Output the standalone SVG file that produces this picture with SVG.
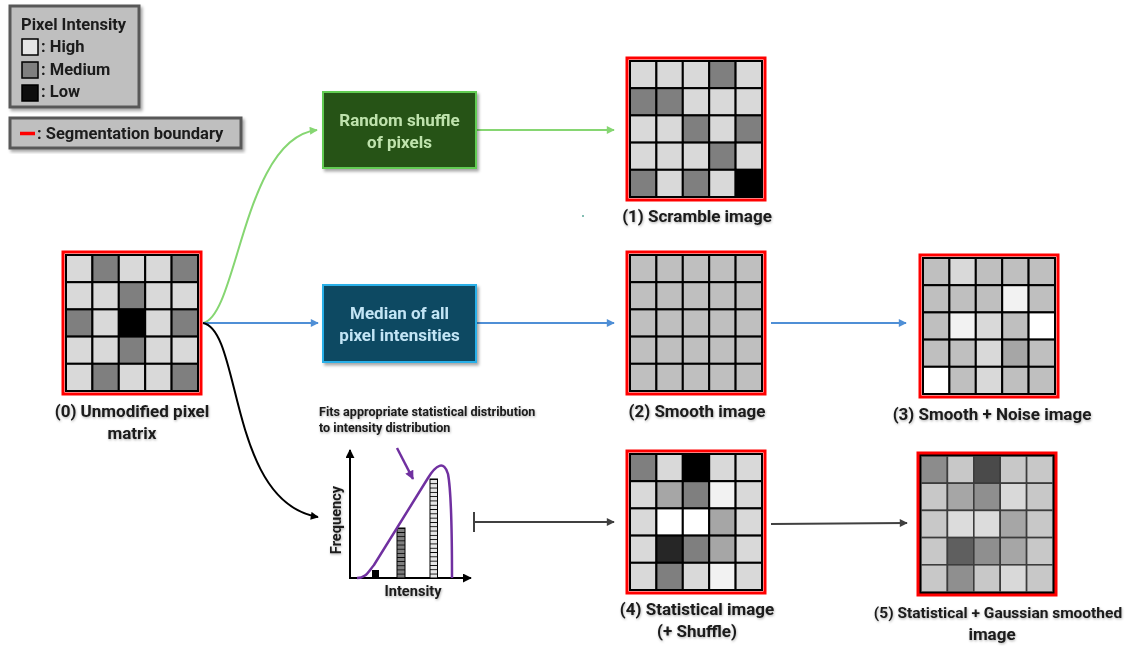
<svg xmlns="http://www.w3.org/2000/svg" width="1131" height="648" viewBox="0 0 1131 648">
  <style>
    text { font-family: Roboto, "Liberation Sans", Arial, sans-serif; font-weight: 700; fill: #1a1a1a; }
    .lbl { font-size: 17px; text-anchor: middle; }
    .leg { font-size: 16.5px; }
    .box-t { font-size: 17px; text-anchor: middle; }
    .small { font-size: 12.6px; }
    .axis-t { font-size: 14.6px; text-anchor: middle; }
    .c { width: 26.4px; height: 27.2px; stroke: #000; stroke-width: 2; }
    .soft .c { stroke: #3c3c3c; stroke-width: 1.6; }
    .frame { fill: none; stroke: #ff0000; stroke-width: 3; }
    .L { fill: #d9d9d9; } .M { fill: #7f7f7f; } .K { fill: #000; } .S { fill: #bfbfbf; }
    .V { fill: #f2f2f2; } .W { fill: #ffffff; } .D { fill: #a6a6a6; } .K2 { fill: #262626; }
    .g8c { fill: #8c8c8c; } .gc8 { fill: #c8c8c8; } .g4a { fill: #4a4a4a; } .g8f { fill: #8f8f8f; }
    .gdc { fill: #dcdcdc; } .g5f { fill: #5f5f5f; } .gd9 { fill: #d9d9d9; } .ga6 { fill: #a6a6a6; }
    .legbox { fill: #bfbfbf; stroke: #595959; stroke-width: 3; }
  </style>
  <defs>
    <filter id="shadow" x="-10%" y="-10%" width="125%" height="130%">
      <feDropShadow dx="2" dy="2.5" stdDeviation="1.6" flood-color="#000" flood-opacity="0.35"/>
    </filter>
    <filter id="tshadow" x="-5%" y="-20%" width="110%" height="150%">
      <feDropShadow dx="0.6" dy="1.2" stdDeviation="0.8" flood-color="#000" flood-opacity="0.3"/>
    </filter>
    <marker id="ah-green" viewBox="0 0 10 10" refX="9" refY="5" markerWidth="9" markerHeight="8" markerUnits="userSpaceOnUse" orient="auto">
      <path d="M0,0 L10,5 L0,10 z" fill="#86d672"/>
    </marker>
    <marker id="ah-blue" viewBox="0 0 10 10" refX="9" refY="5" markerWidth="9" markerHeight="8" markerUnits="userSpaceOnUse" orient="auto">
      <path d="M0,0 L10,5 L0,10 z" fill="#4f8fd6"/>
    </marker>
    <marker id="ah-black" viewBox="0 0 10 10" refX="9" refY="5" markerWidth="9" markerHeight="8" markerUnits="userSpaceOnUse" orient="auto">
      <path d="M0,0 L10,5 L0,10 z" fill="#000"/>
    </marker>
    <marker id="ah-gray" viewBox="0 0 10 10" refX="9" refY="5" markerWidth="9" markerHeight="8" markerUnits="userSpaceOnUse" orient="auto">
      <path d="M0,0 L10,5 L0,10 z" fill="#404040"/>
    </marker>
    <marker id="ah-purple" viewBox="0 0 10 10" refX="9" refY="5" markerWidth="10" markerHeight="9" markerUnits="userSpaceOnUse" orient="auto">
      <path d="M0,0 L10,5 L0,10 z" fill="#7030a0"/>
    </marker>
    <marker id="ah-axis" viewBox="0 0 10 10" refX="9" refY="5" markerWidth="9" markerHeight="9" markerUnits="userSpaceOnUse" orient="auto">
      <path d="M0,0 L10,5 L0,10 z" fill="#000"/>
    </marker>
    <pattern id="seg-mid" patternUnits="userSpaceOnUse" x="0" y="528" width="10" height="4.15">
      <rect width="10" height="4.15" fill="#7f7f7f"/>
      <line x1="0" y1="0.4" x2="10" y2="0.4" stroke="#000" stroke-width="0.9"/>
    </pattern>
    <pattern id="seg-hi" patternUnits="userSpaceOnUse" x="0" y="479" width="10" height="4.3">
      <rect width="10" height="4.3" fill="#e6e6e6"/>
      <line x1="0" y1="0.4" x2="10" y2="0.4" stroke="#000" stroke-width="0.9"/>
    </pattern>
  </defs>

  <!-- Legend -->
  <g id="legend-intensity" filter="url(#shadow)">
    <rect class="legbox" x="10" y="6" width="129" height="101"/>
    <text class="leg" x="21" y="30">Pixel Intensity</text>
    <rect x="22" y="39" width="16" height="16" fill="#e6e6e6" stroke="#000" stroke-width="1.5"/>
    <text class="leg" x="41" y="52">: High</text>
    <rect x="22" y="62" width="16" height="16" fill="#7f7f7f" stroke="#000" stroke-width="1.5"/>
    <text class="leg" x="41" y="75">: Medium</text>
    <rect x="22" y="85" width="16" height="16" fill="#0d0d0d" stroke="#000" stroke-width="1.5"/>
    <text class="leg" x="41" y="97">: Low</text>
  </g>
  <g id="legend-boundary" filter="url(#shadow)">
    <rect class="legbox" x="10" y="118" width="231" height="30"/>
    <line x1="20" y1="133.5" x2="35" y2="133.5" stroke="#ff0000" stroke-width="3.5"/>
    <text class="leg" x="37" y="139">: Segmentation boundary</text>
  </g>

  <!-- Connectors -->
  <g id="connectors" fill="none" stroke-width="2">
    <path d="M203,323 C238,316 243,138 317,130" stroke="#86d672" marker-end="url(#ah-green)"/>
    <path d="M476,130 L614,130" stroke="#86d672" marker-end="url(#ah-green)"/>
    <path d="M203,323 L318,323" stroke="#4f8fd6" marker-end="url(#ah-blue)"/>
    <path d="M476,323 L614,323" stroke="#4f8fd6" marker-end="url(#ah-blue)"/>
    <path d="M771,323 L906,323" stroke="#4f8fd6" marker-end="url(#ah-blue)"/>
    <path d="M203,323 C242,330 228,502 318,517" stroke="#000" marker-end="url(#ah-black)"/>
    <path d="M474,512 L474,532 M474,522 L614,522" stroke="#404040" marker-end="url(#ah-gray)"/>
    <path d="M771,524 L907,523" stroke="#404040" marker-end="url(#ah-gray)"/>
  </g>

  <!-- Process boxes -->
  <g id="box-shuffle" filter="url(#shadow)">
    <rect x="323" y="92" width="153" height="76" fill="#275317" stroke="#62cc52" stroke-width="2"/>
    <text class="box-t" x="399.5" y="126" style="fill:#bfe3ad">Random shuffle</text>
    <text class="box-t" x="399.5" y="148" style="fill:#bfe3ad">of pixels</text>
  </g>
  <g id="box-median" filter="url(#shadow)">
    <rect x="323" y="285" width="153" height="77" fill="#114862" stroke="#2bb0e8" stroke-width="2"/>
    <text class="box-t" x="399.5" y="319" style="fill:#c2e5f5">Median of all</text>
    <text class="box-t" x="399.5" y="341" style="fill:#c2e5f5">pixel intensities</text>
  </g>

  <!-- (0) Unmodified pixel matrix -->
  <g id="matrix-0" transform="translate(63,252)">
    <rect class="c L" x="3" y="3"/><rect class="c M" x="29.4" y="3"/><rect class="c L" x="55.8" y="3"/><rect class="c L" x="82.2" y="3"/><rect class="c M" x="108.6" y="3"/>
    <rect class="c L" x="3" y="30.2"/><rect class="c L" x="29.4" y="30.2"/><rect class="c M" x="55.8" y="30.2"/><rect class="c L" x="82.2" y="30.2"/><rect class="c L" x="108.6" y="30.2"/>
    <rect class="c M" x="3" y="57.4"/><rect class="c L" x="29.4" y="57.4"/><rect class="c K" x="55.8" y="57.4"/><rect class="c L" x="82.2" y="57.4"/><rect class="c M" x="108.6" y="57.4"/>
    <rect class="c L" x="3" y="84.6"/><rect class="c L" x="29.4" y="84.6"/><rect class="c M" x="55.8" y="84.6"/><rect class="c L" x="82.2" y="84.6"/><rect class="c L" x="108.6" y="84.6"/>
    <rect class="c L" x="3" y="111.8"/><rect class="c M" x="29.4" y="111.8"/><rect class="c L" x="55.8" y="111.8"/><rect class="c L" x="82.2" y="111.8"/><rect class="c M" x="108.6" y="111.8"/>
    <rect class="frame" x="0" y="0" width="138" height="142"/>
  </g>
  <g id="label-0" filter="url(#tshadow)">
    <text class="lbl" x="132" y="417">(0) Unmodified pixel</text>
    <text class="lbl" x="132" y="439">matrix</text>
  </g>

  <!-- (1) Scramble image -->
  <g id="matrix-1" transform="translate(627,58)">
    <rect class="c L" x="3" y="3"/><rect class="c L" x="29.4" y="3"/><rect class="c L" x="55.8" y="3"/><rect class="c M" x="82.2" y="3"/><rect class="c L" x="108.6" y="3"/>
    <rect class="c M" x="3" y="30.2"/><rect class="c M" x="29.4" y="30.2"/><rect class="c L" x="55.8" y="30.2"/><rect class="c L" x="82.2" y="30.2"/><rect class="c L" x="108.6" y="30.2"/>
    <rect class="c L" x="3" y="57.4"/><rect class="c L" x="29.4" y="57.4"/><rect class="c M" x="55.8" y="57.4"/><rect class="c L" x="82.2" y="57.4"/><rect class="c M" x="108.6" y="57.4"/>
    <rect class="c L" x="3" y="84.6"/><rect class="c L" x="29.4" y="84.6"/><rect class="c L" x="55.8" y="84.6"/><rect class="c M" x="82.2" y="84.6"/><rect class="c L" x="108.6" y="84.6"/>
    <rect class="c M" x="3" y="111.8"/><rect class="c L" x="29.4" y="111.8"/><rect class="c M" x="55.8" y="111.8"/><rect class="c L" x="82.2" y="111.8"/><rect class="c K" x="108.6" y="111.8"/>
    <rect class="frame" x="0" y="0" width="138" height="142"/>
  </g>
  <g id="label-1" filter="url(#tshadow)">
    <text class="lbl" x="697" y="222">(1) Scramble image</text>
  </g>

  <!-- (2) Smooth image -->
  <g id="matrix-2" transform="translate(627,252)">
    <rect class="c S" x="3" y="3"/><rect class="c S" x="29.4" y="3"/><rect class="c S" x="55.8" y="3"/><rect class="c S" x="82.2" y="3"/><rect class="c S" x="108.6" y="3"/>
    <rect class="c S" x="3" y="30.2"/><rect class="c S" x="29.4" y="30.2"/><rect class="c S" x="55.8" y="30.2"/><rect class="c S" x="82.2" y="30.2"/><rect class="c S" x="108.6" y="30.2"/>
    <rect class="c S" x="3" y="57.4"/><rect class="c S" x="29.4" y="57.4"/><rect class="c S" x="55.8" y="57.4"/><rect class="c S" x="82.2" y="57.4"/><rect class="c S" x="108.6" y="57.4"/>
    <rect class="c S" x="3" y="84.6"/><rect class="c S" x="29.4" y="84.6"/><rect class="c S" x="55.8" y="84.6"/><rect class="c S" x="82.2" y="84.6"/><rect class="c S" x="108.6" y="84.6"/>
    <rect class="c S" x="3" y="111.8"/><rect class="c S" x="29.4" y="111.8"/><rect class="c S" x="55.8" y="111.8"/><rect class="c S" x="82.2" y="111.8"/><rect class="c S" x="108.6" y="111.8"/>
    <rect class="frame" x="0" y="0" width="138" height="142"/>
  </g>
  <g id="label-2" filter="url(#tshadow)">
    <text class="lbl" x="697" y="417">(2) Smooth image</text>
  </g>

  <!-- (3) Smooth + Noise image -->
  <g id="matrix-3" transform="translate(920,255)">
    <rect class="c S" x="3" y="3"/><rect class="c L" x="29.4" y="3"/><rect class="c S" x="55.8" y="3"/><rect class="c S" x="82.2" y="3"/><rect class="c S" x="108.6" y="3"/>
    <rect class="c S" x="3" y="30.2"/><rect class="c S" x="29.4" y="30.2"/><rect class="c S" x="55.8" y="30.2"/><rect class="c V" x="82.2" y="30.2"/><rect class="c S" x="108.6" y="30.2"/>
    <rect class="c S" x="3" y="57.4"/><rect class="c V" x="29.4" y="57.4"/><rect class="c L" x="55.8" y="57.4"/><rect class="c S" x="82.2" y="57.4"/><rect class="c W" x="108.6" y="57.4"/>
    <rect class="c S" x="3" y="84.6"/><rect class="c S" x="29.4" y="84.6"/><rect class="c L" x="55.8" y="84.6"/><rect class="c D" x="82.2" y="84.6"/><rect class="c S" x="108.6" y="84.6"/>
    <rect class="c W" x="3" y="111.8"/><rect class="c S" x="29.4" y="111.8"/><rect class="c L" x="55.8" y="111.8"/><rect class="c S" x="82.2" y="111.8"/><rect class="c S" x="108.6" y="111.8"/>
    <rect class="frame" x="0" y="0" width="138" height="142"/>
  </g>
  <g id="label-3" filter="url(#tshadow)">
    <text class="lbl" x="992" y="420">(3) Smooth + Noise image</text>
  </g>

  <!-- (4) Statistical image -->
  <g id="matrix-4" transform="translate(627,451)">
    <rect class="c M" x="3" y="3"/><rect class="c L" x="29.4" y="3"/><rect class="c K" x="55.8" y="3"/><rect class="c L" x="82.2" y="3"/><rect class="c L" x="108.6" y="3"/>
    <rect class="c L" x="3" y="30.2"/><rect class="c D" x="29.4" y="30.2"/><rect class="c M" x="55.8" y="30.2"/><rect class="c V" x="82.2" y="30.2"/><rect class="c L" x="108.6" y="30.2"/>
    <rect class="c L" x="3" y="57.4"/><rect class="c W" x="29.4" y="57.4"/><rect class="c W" x="55.8" y="57.4"/><rect class="c D" x="82.2" y="57.4"/><rect class="c L" x="108.6" y="57.4"/>
    <rect class="c L" x="3" y="84.6"/><rect class="c K2" x="29.4" y="84.6"/><rect class="c M" x="55.8" y="84.6"/><rect class="c D" x="82.2" y="84.6"/><rect class="c L" x="108.6" y="84.6"/>
    <rect class="c L" x="3" y="111.8"/><rect class="c M" x="29.4" y="111.8"/><rect class="c L" x="55.8" y="111.8"/><rect class="c V" x="82.2" y="111.8"/><rect class="c L" x="108.6" y="111.8"/>
    <rect class="frame" x="0" y="0" width="138" height="142"/>
  </g>
  <g id="label-4" filter="url(#tshadow)">
    <text class="lbl" x="697" y="615">(4) Statistical image</text>
    <text class="lbl" x="697" y="637">(+ Shuffle)</text>
  </g>

  <!-- (5) Statistical + Gaussian smoothed image -->
  <g id="matrix-5" class="soft" transform="translate(918,453)">
    <rect class="c g8c" x="3" y="3"/><rect class="c gc8" x="29.4" y="3"/><rect class="c g4a" x="55.8" y="3"/><rect class="c gc8" x="82.2" y="3"/><rect class="c gc8" x="108.6" y="3"/>
    <rect class="c gc8" x="3" y="30.2"/><rect class="c ga6" x="29.4" y="30.2"/><rect class="c g8f" x="55.8" y="30.2"/><rect class="c gd9" x="82.2" y="30.2"/><rect class="c gc8" x="108.6" y="30.2"/>
    <rect class="c gc8" x="3" y="57.4"/><rect class="c gdc" x="29.4" y="57.4"/><rect class="c gdc" x="55.8" y="57.4"/><rect class="c ga6" x="82.2" y="57.4"/><rect class="c gc8" x="108.6" y="57.4"/>
    <rect class="c gc8" x="3" y="84.6"/><rect class="c g5f" x="29.4" y="84.6"/><rect class="c g8f" x="55.8" y="84.6"/><rect class="c ga6" x="82.2" y="84.6"/><rect class="c gc8" x="108.6" y="84.6"/>
    <rect class="c gc8" x="3" y="111.8"/><rect class="c g8f" x="29.4" y="111.8"/><rect class="c gc8" x="55.8" y="111.8"/><rect class="c gd9" x="82.2" y="111.8"/><rect class="c gc8" x="108.6" y="111.8"/>
    <rect x="2" y="2" width="134" height="138" fill="none" stroke="#000" stroke-width="2"/>
    <rect class="frame" x="0" y="0" width="138" height="142"/>
  </g>
  <g id="label-5" filter="url(#tshadow)">
    <text class="lbl" x="998" y="618" style="font-size:15.5px">(5) Statistical + Gaussian smoothed</text>
    <text class="lbl" x="992" y="640">image</text>
  </g>

  <!-- Fitted distribution plot -->
  <g id="distribution-plot">
    <g filter="url(#tshadow)">
      <text class="small" x="319" y="416">Fits appropriate statistical distribution</text>
      <text class="small" x="319" y="432">to intensity distribution</text>
    </g>
    <line x1="350" y1="578" x2="350" y2="450" stroke="#000" stroke-width="2" marker-end="url(#ah-axis)"/>
    <line x1="349" y1="578" x2="471" y2="578" stroke="#000" stroke-width="2" marker-end="url(#ah-axis)"/>
    <rect x="372" y="570" width="7" height="8" fill="#000"/>
    <rect x="397" y="528" width="8" height="50" fill="url(#seg-mid)" stroke="#000" stroke-width="1"/>
    <rect x="430" y="479" width="7.5" height="99" fill="url(#seg-hi)" stroke="#000" stroke-width="1"/>
    <path d="M357,578 C366,578 368,572 374,565 L428,478 C436,465 444,460 448,474 C452,495 452,545 452,578" fill="none" stroke="#7030a0" stroke-width="2.5"/>
    <line x1="397" y1="448" x2="413" y2="479" stroke="#7030a0" stroke-width="2.5" marker-end="url(#ah-purple)"/>
    <g filter="url(#tshadow)">
      <text class="axis-t" transform="translate(341,520) rotate(-90)">Frequency</text>
      <text class="axis-t" x="413" y="596">Intensity</text>
    </g>
  </g>

  <!-- stray dot -->
  <circle cx="583" cy="216" r="1" fill="#5aa99a"/>
</svg>
